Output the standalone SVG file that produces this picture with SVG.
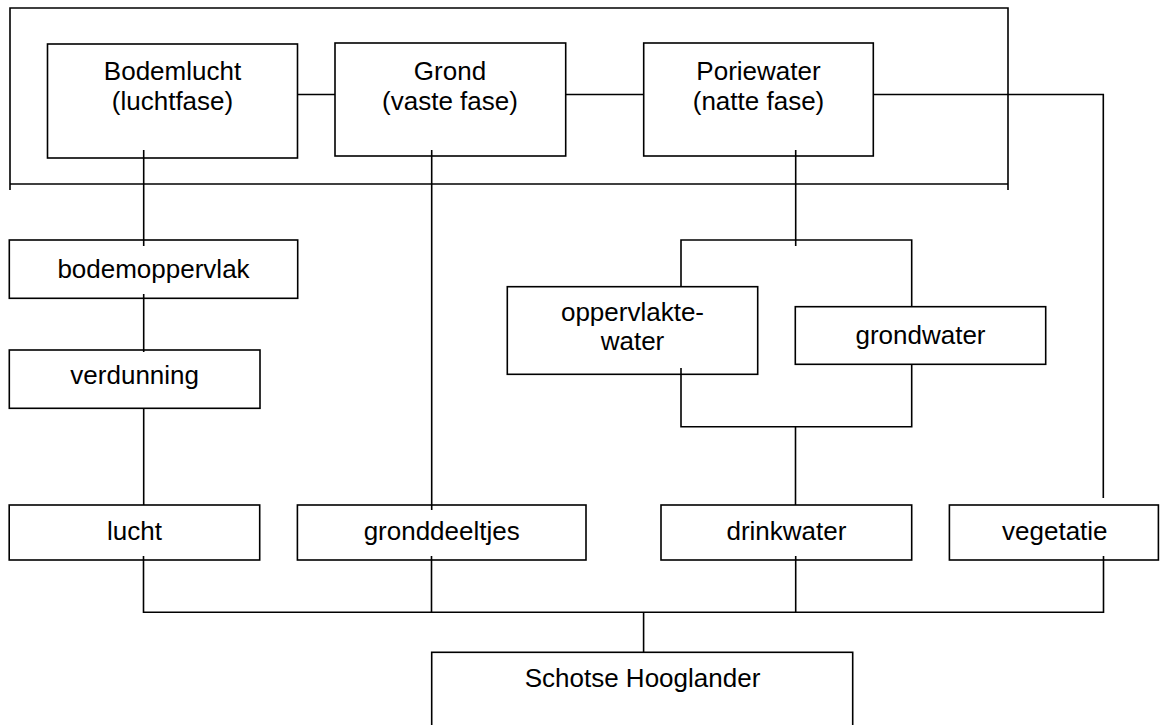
<svg xmlns="http://www.w3.org/2000/svg" width="1160" height="725" viewBox="0 0 1160 725">
<style>
  rect.box { fill: #fff; stroke: #000; stroke-width: 1.6; }
  .conn path, .conn line { fill: none; stroke: #000; stroke-width: 1.6; }
  text { font-family: "Liberation Sans", Arial, sans-serif; font-size: 26px; fill: #000; text-anchor: middle; }
</style>
<rect width="1160" height="725" fill="#fff"/>
<g id="bodemlucht">
  <rect class="box" x="47.5" y="44" width="250" height="114"/>
  <text x="172.5" y="80">Bodemlucht</text>
  <text x="172.5" y="110">(luchtfase)</text>
</g>
<g id="grond">
  <rect class="box" x="335" y="43" width="230.7" height="113"/>
  <text x="450" y="80">Grond</text>
  <text x="450" y="110">(vaste fase)</text>
</g>
<g id="poriewater">
  <rect class="box" x="643.7" y="43" width="229.6" height="113"/>
  <text x="758.5" y="80">Poriewater</text>
  <text x="758.5" y="110">(natte fase)</text>
</g>
<g id="bodemoppervlak">
  <rect class="box" x="9.3" y="240" width="288.4" height="58.3"/>
  <text x="153.5" y="278">bodemoppervlak</text>
</g>
<g id="verdunning">
  <rect class="box" x="9.3" y="350" width="250.7" height="58.3"/>
  <text x="134.7" y="384">verdunning</text>
</g>
<g id="oppervlaktewater">
  <rect class="box" x="507.3" y="286.7" width="250.4" height="87.6"/>
  <text x="632.5" y="321">oppervlakte-</text>
  <text x="632.5" y="350">water</text>
</g>
<g id="grondwater">
  <rect class="box" x="795.3" y="306.7" width="250.4" height="57.6"/>
  <text x="920.5" y="344">grondwater</text>
</g>
<g id="lucht">
  <rect class="box" x="9.2" y="505" width="250.5" height="55"/>
  <text x="134.5" y="540">lucht</text>
</g>
<g id="gronddeeltjes">
  <rect class="box" x="297.4" y="505" width="288.6" height="55"/>
  <text x="441.7" y="540">gronddeeltjes</text>
</g>
<g id="drinkwater">
  <rect class="box" x="661" y="505" width="250.7" height="55"/>
  <text x="786.4" y="540">drinkwater</text>
</g>
<g id="vegetatie">
  <rect class="box" x="949.4" y="505" width="209" height="55"/>
  <text x="1054.8" y="540">vegetatie</text>
</g>
<g id="schotse-hooglander">
  <rect class="box" x="431.7" y="652.3" width="421" height="90"/>
  <text x="642.5" y="687">Schotse Hooglander</text>
</g>
<g class="conn" id="connectors">
  <!-- outer bracket -->
  <path d="M10 190 V8 H1008 V190"/>
  <line x1="10" y1="184" x2="1008" y2="184"/>
  <!-- top row links -->
  <line x1="297.5" y1="94.5" x2="335" y2="94.5"/>
  <line x1="565.7" y1="94.5" x2="643.7" y2="94.5"/>
  <path d="M873.3 94.5 H1103.3 V498"/>
  <!-- left column -->
  <line x1="143.7" y1="150" x2="143.7" y2="246"/>
  <line x1="143.7" y1="294" x2="143.7" y2="352"/>
  <line x1="143.7" y1="408" x2="143.7" y2="505"/>
  <!-- grond column -->
  <line x1="431.7" y1="150" x2="431.7" y2="510"/>
  <!-- water branch -->
  <line x1="795.7" y1="150" x2="795.7" y2="246"/>
  <path d="M681 287 V240 H911.7 V307"/>
  <path d="M681 368 V426.7 H911.7 V364"/>
  <line x1="795.5" y1="426.7" x2="795.5" y2="505"/>
  <!-- bottom bus -->
  <path d="M143.5 556 V612.3 H1103.5 V556"/>
  <line x1="431.5" y1="556" x2="431.5" y2="612.3"/>
  <line x1="795.7" y1="556" x2="795.7" y2="612.3"/>
  <line x1="643.6" y1="612.3" x2="643.6" y2="652.3"/>
</g>
</svg>
